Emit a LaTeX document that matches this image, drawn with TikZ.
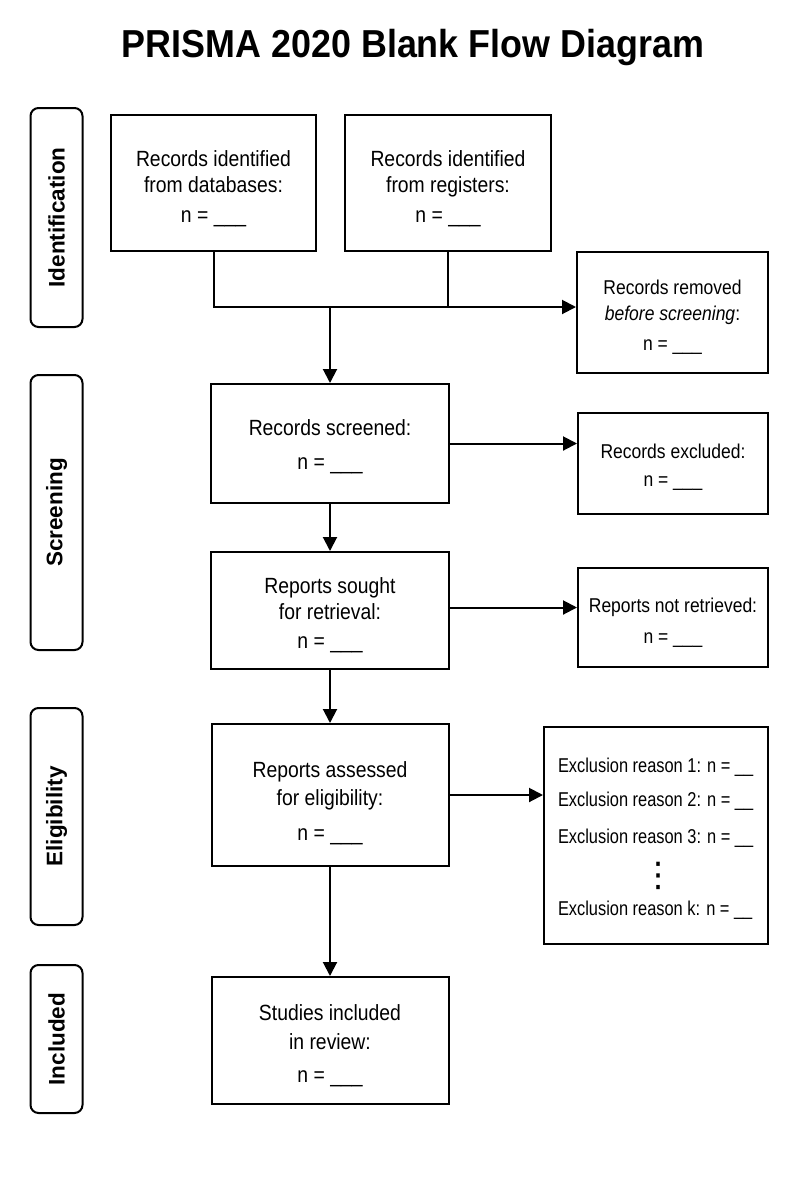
\documentclass[tikz,border=0pt]{standalone}
\usepackage{fontspec}
\setmainfont[FakeStretch=0.88]{Liberation Sans}
\newfontfamily\rightfont[FakeStretch=0.875]{Liberation Sans}
\newfontfamily\exfont[FakeStretch=0.82]{Liberation Sans}
\newfontfamily\phasefont{Liberation Sans}
\newfontfamily\titlefont[FakeStretch=0.92]{Liberation Sans}
\newfontfamily\symfont{DejaVu Sans}
\usetikzlibrary{arrows.meta}
\begin{document}
\begin{tikzpicture}[x=1pt,y=-1pt,
  line width=2pt,
  every node/.style={inner sep=0pt},
  box/.style={draw=black, line width=2pt, rectangle},
  txt/.style={align=center, font=\fontsize{22}{26}\selectfont},
  stxt/.style={align=center, font=\rightfont\fontsize{20}{26}\selectfont},
  phase/.style={draw=black, line width=2pt, rounded corners=8pt, minimum height=52pt,
    font=\phasefont\bfseries\fontsize{22.5}{26}\selectfont, rotate=90},
  exline/.style={anchor=west, font=\exfont\fontsize{20}{22}\selectfont},
  flow/.style={-{Triangle[length=14pt,width=14pt]}, line width=2pt}
]
\useasboundingbox[fill=white] (0,0) rectangle (800,1200);

% title
\node[font=\titlefont\bfseries\fontsize{39}{44}\selectfont] (title) at (413,47) {PRISMA 2020 Blank Flow Diagram};

% phase labels
\node[phase, minimum width=219pt] (ph1) at (56.5,217.5) {Identification};
\node[phase, minimum width=275pt] (ph2) at (56.5,512.5) {Screening};
\node[phase, minimum width=217pt] (ph3) at (56.5,816.5) {Eligibility};
\node[phase, minimum width=148pt] (ph4) at (56.5,1039) {Included};

% boxes
\node[box, minimum width=205pt, minimum height=136pt] (db) at (213.5,183) {};
\node[txt] (dbt) at ([yshift=-5.5pt]db.center) {Records identified\\from databases:\\[4pt]n = \_\_\_};
\node[box, minimum width=206pt, minimum height=136pt] (reg) at (448,183) {};
\node[txt] (regt) at ([yshift=-5.5pt]reg.center) {Records identified\\from registers:\\[4pt]n = \_\_\_};
\node[box, minimum width=191pt, minimum height=121pt] (removed) at (672.5,312.5) {};
\node[stxt] (removedt) at ([yshift=-5pt]removed.center) {Records removed\\\textit{before screening}:\\[4pt]n = \_\_\_};
\node[box, minimum width=238pt, minimum height=119pt] (screened) at (330,443.5) {};
\node[txt] (screenedt) at ([yshift=-3pt]screened.center) {Records screened:\\[8pt]n = \_\_\_};
\node[box, minimum width=190pt, minimum height=101pt] (excluded) at (673,463.5) {};
\node[stxt] (excludedt) at ([yshift=-3.5pt]excluded.center) {Records excluded:\\[2pt]n = \_\_\_};
\node[box, minimum width=238pt, minimum height=117pt] (sought) at (330,610.5) {};
\node[txt] (soughtt) at ([yshift=-4.5pt]sought.center) {Reports sought\\for retrieval:\\[3pt]n = \_\_\_};
\node[box, minimum width=190pt, minimum height=99pt] (notret) at (673,617.5) {};
\node[stxt] (notrett) at ([yshift=-5pt]notret.center) {Reports not retrieved:\\[5pt]n = \_\_\_};
\node[box, minimum width=237pt, minimum height=142pt] (assessed) at (330,795) {};
\node[txt] (assessedt) at ([yshift=-8pt]assessed.center) {Reports assessed\\[2pt]for eligibility:\\[9pt]n = \_\_\_};
\node[box, minimum width=224pt, minimum height=217pt] (excl) at (656,835.5) {};
\node[box, minimum width=237pt, minimum height=127pt] (studies) at (330,1040.5) {};
\node[txt] (studiest) at ([yshift=-5pt]studies.center) {Studies included\\[3pt]in review:\\[7pt]n = \_\_\_};

% exclusion reasons
\node[exline] (r1) at (557,767) {Exclusion reason 1: n = \_\_};
\node[exline] (r2) at (557,801) {Exclusion reason 2: n = \_\_};
\node[exline] (r3) at (557,838) {Exclusion reason 3: n = \_\_};
\node[font=\symfont\fontsize{34}{34}\selectfont] (dots) at (658,876) {⋮};
\node[exline] (rk) at (557,910) {Exclusion reason k: n = \_\_};

% connectors
\coordinate (m1) at (db.south |- 0,307);
\coordinate (m2) at (reg.south |- 0,307);
\coordinate (mc) at (screened.north |- 0,307);
\draw (db.south) -- (m1) -- (m2);
\draw (reg.south) -- (m2);
\draw[flow] (m2) -- (removed.west |- m2);
\draw[flow] (mc) -- (screened.north);
\draw[flow] (screened.east) -- (screened.east -| excluded.west);
\draw[flow] (screened.south) -- (sought.north);
\draw[flow] (sought.east) ++(0,-3) coordinate (se) -- (se -| notret.west);
\draw[flow] (sought.south) -- (assessed.north);
\draw[flow] (assessed.east) -- (assessed.east -| excl.west);
\draw[flow] (assessed.south) -- (studies.north);
\end{tikzpicture}
\end{document}
